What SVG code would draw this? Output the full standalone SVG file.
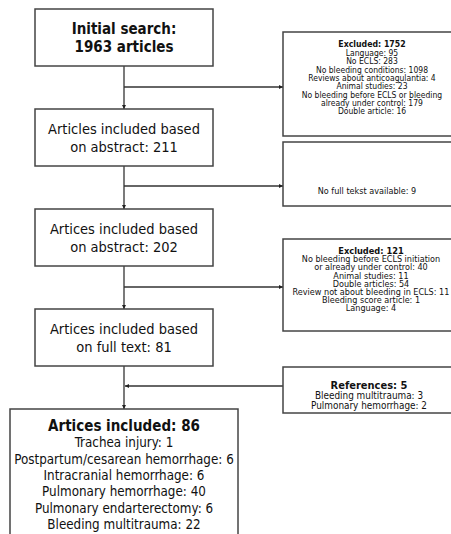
<svg xmlns="http://www.w3.org/2000/svg" width="451" height="534" viewBox="0 0 451 534">
<style>
text{font-family:'DejaVu Sans Condensed','DejaVu Sans',sans-serif;font-stretch:condensed;fill:#111;text-anchor:middle}
.box{fill:#fff;stroke:#444;stroke-width:1.5}
.big{font-size:14.5px}
.bigb{font-size:15px;font-weight:bold}
.mid{font-size:13.3px}
.sm{font-size:8.5px}
.smb{font-size:8.7px;font-weight:bold}
.sm2{font-size:9px}
.smb2{font-size:9.2px;font-weight:bold}
.refb{font-size:11px;font-weight:bold}
.ref{font-size:9.9px}
.conn{fill:none;stroke:#333;stroke-width:1.3}
</style>
<defs>
<marker id="ah" viewBox="0 0 4 4" refX="4" refY="2" markerWidth="4" markerHeight="4" markerUnits="userSpaceOnUse" orient="auto">
<path d="M0,0 L4,2 L0,4 Z" fill="#222"/>
</marker>
</defs>
<g id="connectors">
<path class="conn" d="M124,66 V109" marker-end="url(#ah)"/>
<path class="conn" d="M124,87 H283" marker-end="url(#ah)"/>
<path class="conn" d="M124,166 V209" marker-end="url(#ah)"/>
<path class="conn" d="M124,186 H283" marker-end="url(#ah)"/>
<path class="conn" d="M124,266 V309" marker-end="url(#ah)"/>
<path class="conn" d="M124,287 H283" marker-end="url(#ah)"/>
<path class="conn" d="M124,366 V409" marker-end="url(#ah)"/>
<path class="conn" d="M283,386 H125" marker-end="url(#ah)"/>
</g>
<g id="initial">
<rect class="box" x="35" y="9" width="178" height="57"/>
<text class="bigb" x="124" y="34">Initial search:</text>
<text class="bigb" x="124" y="52">1963 articles</text>
</g>
<g id="excluded1">
<rect class="box" x="283" y="32" width="178" height="104"/>
<text class="smb" x="372" y="47">Excluded: 1752</text>
<text class="sm" x="372" y="56">Language: 95</text>
<text class="sm" x="372" y="64.3">No ECLS: 283</text>
<text class="sm" x="372" y="72.6">No bleeding conditions: 1098</text>
<text class="sm" x="372" y="80.9">Reviews about anticoagulantia: 4</text>
<text class="sm" x="372" y="89.2">Animal studies: 23</text>
<text class="sm" x="372" y="97.5">No bleeding before ECLS or bleeding</text>
<text class="sm" x="372" y="105.8">already under control: 179</text>
<text class="sm" x="372" y="114.1">Double article: 16</text>
</g>
<g id="abstract211">
<rect class="box" x="35" y="109" width="178" height="57"/>
<text class="big" x="124" y="134">Articles included based</text>
<text class="big" x="124" y="152">on abstract: 211</text>
</g>
<g id="nofulltext">
<rect class="box" x="283" y="142" width="178" height="64"/>
<text class="sm2" x="367" y="194">No full tekst available: 9</text>
</g>
<g id="abstract202">
<rect class="box" x="35" y="209" width="178" height="57"/>
<text class="big" x="124" y="234">Artices included based</text>
<text class="big" x="124" y="252">on abstract: 202</text>
</g>
<g id="excluded2">
<rect class="box" x="283" y="239" width="178" height="92"/>
<text class="smb2" x="371" y="254">Excluded: 121</text>
<text class="sm2" x="371" y="262.2">No bleeding before ECLS initiation</text>
<text class="sm2" x="371" y="270.4">or already under control: 40</text>
<text class="sm2" x="371" y="278.6">Animal studies: 11</text>
<text class="sm2" x="371" y="286.8">Double articles: 54</text>
<text class="sm2" x="371" y="295">Review not about bleeding in ECLS: 11</text>
<text class="sm2" x="371" y="303.2">Bleeding score article: 1</text>
<text class="sm2" x="371" y="311.4">Language: 4</text>
</g>
<g id="fulltext81">
<rect class="box" x="35" y="309" width="178" height="57"/>
<text class="big" x="124" y="334">Artices included based</text>
<text class="big" x="124" y="352">on full text: 81</text>
</g>
<g id="references">
<rect class="box" x="283" y="367" width="178" height="46"/>
<text class="refb" x="369" y="388.5">References: 5</text>
<text class="ref" x="369" y="399">Bleeding multitrauma: 3</text>
<text class="ref" x="369" y="409">Pulmonary hemorrhage: 2</text>
</g>
<g id="included86">
<rect class="box" x="10" y="409" width="228" height="140"/>
<text class="bigb" x="124" y="431">Artices included: 86</text>
<text class="mid" x="124" y="447">Trachea injury: 1</text>
<text class="mid" x="124" y="463.5">Postpartum/cesarean hemorrhage: 6</text>
<text class="mid" x="124" y="480">Intracranial hemorrhage: 6</text>
<text class="mid" x="124" y="496">Pulmonary hemorrhage: 40</text>
<text class="mid" x="124" y="512.5">Pulmonary endarterectomy: 6</text>
<text class="mid" x="124" y="528.5">Bleeding multitrauma: 22</text>
</g>
</svg>
